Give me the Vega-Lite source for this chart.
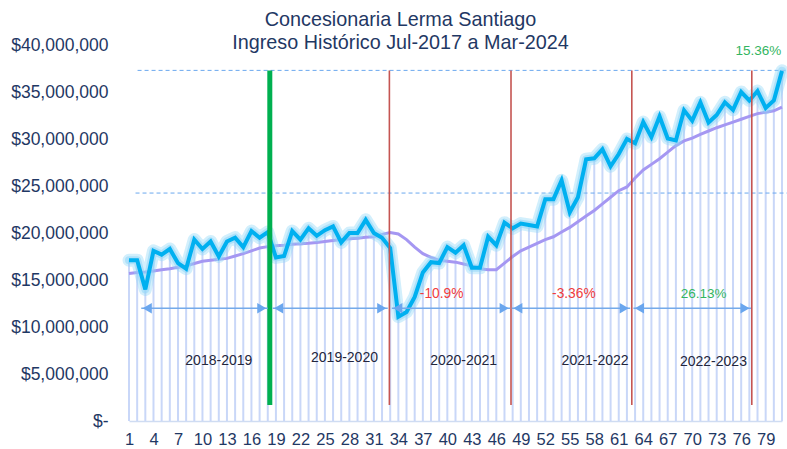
{
  "$schema": "https://vega.github.io/schema/vega-lite/v6.json",
  "width": 653,
  "height": 376,
  "autosize": {"type": "none"},
  "padding": {"left": 129, "top": 45, "right": 5, "bottom": 28},
  "background": "white",
  "config": {
    "view": {"stroke": null},
    "font": "Liberation Sans",
    "axisX": {"labelOverlap": false, "labelFlush": false, "labelBound": false}
  },
  "title": {
    "text": ["Concesionaria Lerma Santiago", "Ingreso Histórico Jul-2017 a Mar-2024"],
    "fontSize": 19.8,
    "fontWeight": "normal",
    "color": "#1f3864",
    "font": "Liberation Sans",
    "dx": -55,
    "dy": 8,
    "lineHeight": 23,
    "offset": -9
  },
  "resolve": {"scale": {"color": "independent", "strokeWidth": "independent", "size": "independent"}},
  "datasets": {
    "serie": [
      {"m": 1, "ingreso": 17100000, "promedio": 15700000},
      {"m": 2, "ingreso": 17100000, "promedio": 15800000},
      {"m": 3, "ingreso": 14000000, "promedio": 15850000},
      {"m": 4, "ingreso": 18100000, "promedio": 15950000},
      {"m": 5, "ingreso": 17700000, "promedio": 16100000},
      {"m": 6, "ingreso": 18300000, "promedio": 16200000},
      {"m": 7, "ingreso": 16800000, "promedio": 16350000},
      {"m": 8, "ingreso": 16200000, "promedio": 16500000},
      {"m": 9, "ingreso": 19300000, "promedio": 16750000},
      {"m": 10, "ingreso": 18300000, "promedio": 17000000},
      {"m": 11, "ingreso": 19100000, "promedio": 17100000},
      {"m": 12, "ingreso": 17500000, "promedio": 17200000},
      {"m": 13, "ingreso": 19100000, "promedio": 17300000},
      {"m": 14, "ingreso": 19500000, "promedio": 17550000},
      {"m": 15, "ingreso": 18500000, "promedio": 17800000},
      {"m": 16, "ingreso": 20200000, "promedio": 18100000},
      {"m": 17, "ingreso": 19500000, "promedio": 18400000},
      {"m": 18, "ingreso": 20100000, "promedio": 18550000},
      {"m": 19, "ingreso": 17400000, "promedio": 18650000},
      {"m": 20, "ingreso": 17550000, "promedio": 18700000},
      {"m": 21, "ingreso": 20200000, "promedio": 18800000},
      {"m": 22, "ingreso": 19300000, "promedio": 18850000},
      {"m": 23, "ingreso": 20500000, "promedio": 18900000},
      {"m": 24, "ingreso": 19700000, "promedio": 19000000},
      {"m": 25, "ingreso": 20300000, "promedio": 19100000},
      {"m": 26, "ingreso": 20700000, "promedio": 19200000},
      {"m": 27, "ingreso": 19000000, "promedio": 19300000},
      {"m": 28, "ingreso": 20000000, "promedio": 19400000},
      {"m": 29, "ingreso": 20000000, "promedio": 19450000},
      {"m": 30, "ingreso": 21400000, "promedio": 19550000},
      {"m": 31, "ingreso": 20000000, "promedio": 19600000},
      {"m": 32, "ingreso": 19500000, "promedio": 19850000},
      {"m": 33, "ingreso": 18400000, "promedio": 20050000},
      {"m": 34, "ingreso": 11100000, "promedio": 19900000},
      {"m": 35, "ingreso": 11600000, "promedio": 19300000},
      {"m": 36, "ingreso": 13200000, "promedio": 18500000},
      {"m": 37, "ingreso": 15800000, "promedio": 17800000},
      {"m": 38, "ingreso": 16900000, "promedio": 17400000},
      {"m": 39, "ingreso": 16800000, "promedio": 17100000},
      {"m": 40, "ingreso": 18500000, "promedio": 17000000},
      {"m": 41, "ingreso": 17900000, "promedio": 16900000},
      {"m": 42, "ingreso": 18700000, "promedio": 16700000},
      {"m": 43, "ingreso": 16300000, "promedio": 16500000},
      {"m": 44, "ingreso": 16300000, "promedio": 16200000},
      {"m": 45, "ingreso": 19600000, "promedio": 16100000},
      {"m": 46, "ingreso": 18700000, "promedio": 16100000},
      {"m": 47, "ingreso": 21100000, "promedio": 16800000},
      {"m": 48, "ingreso": 20500000, "promedio": 17500000},
      {"m": 49, "ingreso": 21000000, "promedio": 18100000},
      {"m": 50, "ingreso": 20850000, "promedio": 18500000},
      {"m": 51, "ingreso": 20700000, "promedio": 18900000},
      {"m": 52, "ingreso": 23600000, "promedio": 19300000},
      {"m": 53, "ingreso": 23600000, "promedio": 19600000},
      {"m": 54, "ingreso": 25600000, "promedio": 20100000},
      {"m": 55, "ingreso": 22200000, "promedio": 20600000},
      {"m": 56, "ingreso": 23800000, "promedio": 21200000},
      {"m": 57, "ingreso": 27850000, "promedio": 21800000},
      {"m": 58, "ingreso": 27950000, "promedio": 22400000},
      {"m": 59, "ingreso": 28900000, "promedio": 23100000},
      {"m": 60, "ingreso": 27100000, "promedio": 23800000},
      {"m": 61, "ingreso": 28400000, "promedio": 24500000},
      {"m": 62, "ingreso": 30000000, "promedio": 24900000},
      {"m": 63, "ingreso": 29550000, "promedio": 25850000},
      {"m": 64, "ingreso": 31800000, "promedio": 26700000},
      {"m": 65, "ingreso": 30200000, "promedio": 27300000},
      {"m": 66, "ingreso": 32400000, "promedio": 27900000},
      {"m": 67, "ingreso": 30050000, "promedio": 28600000},
      {"m": 68, "ingreso": 29850000, "promedio": 29300000},
      {"m": 69, "ingreso": 33050000, "promedio": 29800000},
      {"m": 70, "ingreso": 31950000, "promedio": 30100000},
      {"m": 71, "ingreso": 33900000, "promedio": 30500000},
      {"m": 72, "ingreso": 31750000, "promedio": 30850000},
      {"m": 73, "ingreso": 32550000, "promedio": 31200000},
      {"m": 74, "ingreso": 33900000, "promedio": 31500000},
      {"m": 75, "ingreso": 33100000, "promedio": 31800000},
      {"m": 76, "ingreso": 35000000, "promedio": 32100000},
      {"m": 77, "ingreso": 34100000, "promedio": 32400000},
      {"m": 78, "ingreso": 35100000, "promedio": 32700000},
      {"m": 79, "ingreso": 33300000, "promedio": 32850000},
      {"m": 80, "ingreso": 34100000, "promedio": 33000000},
      {"m": 81, "ingreso": 37250000, "promedio": 33400000}
    ],
    "horizontales": [
      {"nivel": 37300000, "desde": 2.05, "hasta": 81.7},
      {"nivel": 24250000, "desde": 1.8, "hasta": 81.7}
    ],
    "verticales": [
      {"pos": 18.25, "abajo": 1700000, "arriba": 37300000, "tipo": "verde"},
      {"pos": 32.9, "abajo": 1700000, "arriba": 37300000, "tipo": "rojo"},
      {"pos": 47.8, "abajo": 1700000, "arriba": 37300000, "tipo": "rojo"},
      {"pos": 62.6, "abajo": 1700000, "arriba": 37300000, "tipo": "rojo"},
      {"pos": 77.3, "abajo": 1700000, "arriba": 37300000, "tipo": "rojo"}
    ],
    "flechas": [
      {"inicio": 2.5, "fin": 18.0, "nivel": 12000000},
      {"inicio": 18.6, "fin": 32.7, "nivel": 12000000},
      {"inicio": 33.2, "fin": 47.7, "nivel": 12000000},
      {"inicio": 47.9, "fin": 62.4, "nivel": 12000000},
      {"inicio": 62.8, "fin": 77.2, "nivel": 12000000}
    ],
    "etiquetas": [
      {"pos": 12.0, "nivel": 6400000, "texto": "2018-2019", "tipo": "periodo"},
      {"pos": 27.4, "nivel": 6700000, "texto": "2019-2020", "tipo": "periodo"},
      {"pos": 42.0, "nivel": 6400000, "texto": "2020-2021", "tipo": "periodo"},
      {"pos": 58.1, "nivel": 6400000, "texto": "2021-2022", "tipo": "periodo"},
      {"pos": 72.6, "nivel": 6300000, "texto": "2022-2023", "tipo": "periodo"},
      {"pos": 39.3, "nivel": 13500000, "texto": "-10.9%", "tipo": "negativo"},
      {"pos": 55.5, "nivel": 13500000, "texto": "-3.36%", "tipo": "negativo"},
      {"pos": 71.4, "nivel": 13500000, "texto": "26.13%", "tipo": "positivo"},
      {"pos": 78.1, "nivel": 39350000, "texto": "15.36%", "tipo": "positivo"}
    ]
  },
  "layer": [
    {
      "data": {"name": "serie"},
      "mark": {"type": "rule", "color": "#c9d7f8", "strokeWidth": 2},
      "encoding": {
        "x": {
          "field": "m", "type": "quantitative",
          "scale": {"domain": [1, 81], "nice": false, "zero": false},
          "axis": {
            "title": null,
            "values": [1, 4, 7, 10, 13, 16, 19, 22, 25, 28, 31, 34, 37, 40, 43, 46, 49, 52, 55, 58, 61, 64, 67, 70, 73, 76, 79],
            "tickCount": 60,
            "ticks": false, "grid": false,
            "labelFlush": false, "labelOverlap": false,
            "labelFontSize": 16.5, "labelColor": "#1f3864", "labelPadding": 10,
            "domainColor": "#cfdcf2", "domainWidth": 1.5
          }
        },
        "y": {
          "field": "ingreso", "type": "quantitative",
          "scale": {"domain": [0, 40000000], "nice": false, "zero": true},
          "axis": {
            "title": null,
            "values": [0, 5000000, 10000000, 15000000, 20000000, 25000000, 30000000, 35000000, 40000000],
            "tickCount": 20,
            "ticks": false, "grid": false, "domain": false,
            "labelFontSize": 17.5, "labelColor": "#1f3864", "labelPadding": 21,
            "labelExpr": "datum.value == 0 ? '$-\u00a0\u00a0' : '$' + format(datum.value, ',')"
          }
        },
        "y2": {"datum": 0}
      }
    },
    {
      "data": {"name": "horizontales"},
      "mark": {"type": "rule", "color": "#6aa8ee", "strokeWidth": 1, "strokeDash": [4, 3]},
      "encoding": {
        "x": {"field": "desde", "type": "quantitative", "scale": {"domain": [1, 81], "nice": false, "zero": false}, "axis": {"title": null}},
        "x2": {"field": "hasta"},
        "y": {"field": "nivel", "type": "quantitative", "scale": {"domain": [0, 40000000], "nice": false, "zero": true}, "axis": {"title": null}}
      }
    },
    {
      "data": {"name": "serie"},
      "mark": {"type": "line", "color": "#a597f2", "strokeWidth": 3},
      "encoding": {
        "x": {"field": "m", "type": "quantitative", "scale": {"domain": [1, 81], "nice": false, "zero": false}, "axis": {"title": null}},
        "y": {"field": "promedio", "type": "quantitative", "scale": {"domain": [0, 40000000], "nice": false, "zero": true}, "axis": {"title": null}}
      }
    },
    {
      "data": {"name": "serie"},
      "mark": {"type": "line", "color": "#8fd6f7", "strokeWidth": 13, "opacity": 0.4, "strokeJoin": "round", "strokeCap": "round"},
      "encoding": {
        "x": {"field": "m", "type": "quantitative", "scale": {"domain": [1, 81], "nice": false, "zero": false}, "axis": {"title": null}},
        "y": {"field": "ingreso", "type": "quantitative", "scale": {"domain": [0, 40000000], "nice": false, "zero": true}, "axis": {"title": null}}
      }
    },
    {
      "data": {"name": "serie"},
      "mark": {"type": "line", "color": "#8fd6f7", "strokeWidth": 8, "opacity": 0.55, "strokeJoin": "round", "strokeCap": "round"},
      "encoding": {
        "x": {"field": "m", "type": "quantitative", "scale": {"domain": [1, 81], "nice": false, "zero": false}, "axis": {"title": null}},
        "y": {"field": "ingreso", "type": "quantitative", "scale": {"domain": [0, 40000000], "nice": false, "zero": true}, "axis": {"title": null}}
      }
    },
    {
      "data": {"name": "serie"},
      "mark": {"type": "line", "color": "#00b0f0", "strokeWidth": 4, "strokeJoin": "miter"},
      "encoding": {
        "x": {"field": "m", "type": "quantitative", "scale": {"domain": [1, 81], "nice": false, "zero": false}, "axis": {"title": null}},
        "y": {"field": "ingreso", "type": "quantitative", "scale": {"domain": [0, 40000000], "nice": false, "zero": true}, "axis": {"title": null}}
      }
    },
    {
      "data": {"name": "verticales"},
      "mark": {"type": "rule"},
      "encoding": {
        "x": {"field": "pos", "type": "quantitative", "scale": {"domain": [1, 81], "nice": false, "zero": false}, "axis": {"title": null}},
        "y": {"field": "abajo", "type": "quantitative", "scale": {"domain": [0, 40000000], "nice": false, "zero": true}, "axis": {"title": null}},
        "y2": {"field": "arriba"},
        "color": {"field": "tipo", "type": "nominal", "scale": {"domain": ["verde", "rojo"], "range": ["#00b050", "#c55552"]}, "legend": null},
        "strokeWidth": {"field": "tipo", "type": "nominal", "scale": {"domain": ["verde", "rojo"], "range": [5, 1.6]}, "legend": null}
      }
    },
    {
      "data": {"name": "flechas"},
      "mark": {"type": "rule", "color": "#74aaea", "strokeWidth": 1.5},
      "encoding": {
        "x": {"field": "inicio", "type": "quantitative", "scale": {"domain": [1, 81], "nice": false, "zero": false}, "axis": {"title": null}},
        "x2": {"field": "fin"},
        "y": {"field": "nivel", "type": "quantitative", "scale": {"domain": [0, 40000000], "nice": false, "zero": true}, "axis": {"title": null}}
      }
    },
    {
      "data": {"name": "flechas"},
      "mark": {"type": "point", "shape": "triangle-left", "filled": true, "color": "#6aa6ee", "size": 110, "opacity": 1, "xOffset": 6},
      "encoding": {
        "x": {"field": "inicio", "type": "quantitative", "scale": {"domain": [1, 81], "nice": false, "zero": false}, "axis": {"title": null}},
        "y": {"field": "nivel", "type": "quantitative", "scale": {"domain": [0, 40000000], "nice": false, "zero": true}, "axis": {"title": null}}
      }
    },
    {
      "data": {"name": "flechas"},
      "mark": {"type": "point", "shape": "triangle-right", "filled": true, "color": "#6aa6ee", "size": 110, "opacity": 1, "xOffset": -6},
      "encoding": {
        "x": {"field": "fin", "type": "quantitative", "scale": {"domain": [1, 81], "nice": false, "zero": false}, "axis": {"title": null}},
        "y": {"field": "nivel", "type": "quantitative", "scale": {"domain": [0, 40000000], "nice": false, "zero": true}, "axis": {"title": null}}
      }
    },
    {
      "data": {"name": "etiquetas"},
      "mark": {"type": "text", "align": "center", "baseline": "middle", "font": "Liberation Sans"},
      "encoding": {
        "x": {"field": "pos", "type": "quantitative", "scale": {"domain": [1, 81], "nice": false, "zero": false}, "axis": {"title": null}},
        "y": {"field": "nivel", "type": "quantitative", "scale": {"domain": [0, 40000000], "nice": false, "zero": true}, "axis": {"title": null}},
        "text": {"field": "texto", "type": "nominal"},
        "color": {"field": "tipo", "type": "nominal", "scale": {"domain": ["periodo", "negativo", "positivo"], "range": ["#23263d", "#f03c3c", "#33b561"]}, "legend": null},
        "size": {"field": "tipo", "type": "nominal", "scale": {"domain": ["periodo", "negativo", "positivo"], "range": [14, 13.5, 13.5]}, "legend": null}
      }
    }
  ]
}
